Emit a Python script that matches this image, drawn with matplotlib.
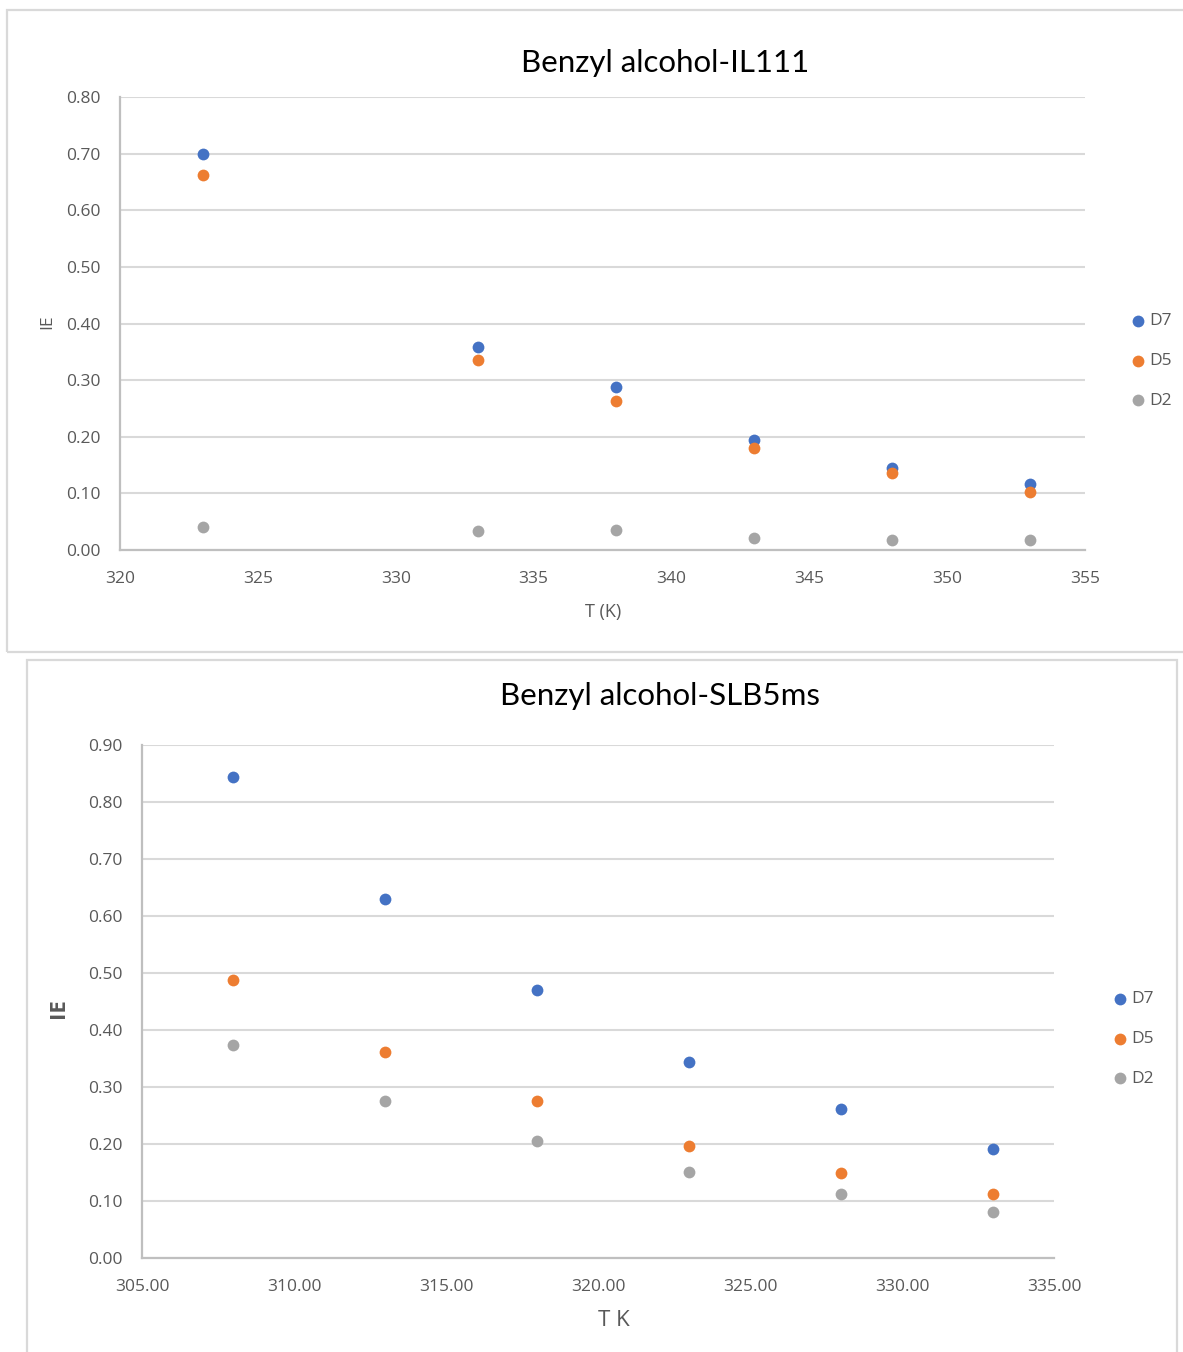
import matplotlib
matplotlib.use("Agg")
import matplotlib.pyplot as plt
from matplotlib.patches import Rectangle

# Benzyl alcohol on IL111
t_il111 = [323, 333, 338, 343, 348, 353]
il111_d7 = [0.70, 0.358, 0.288, 0.194, 0.145, 0.116]
il111_d5 = [0.662, 0.335, 0.263, 0.181, 0.136, 0.103]
il111_d2 = [0.040, 0.033, 0.036, 0.021, 0.017, 0.017]

# Benzyl alcohol on SLB5ms
t_slb = [308, 313, 318, 323, 328, 333]
slb_d7 = [0.843, 0.629, 0.470, 0.343, 0.262, 0.192]
slb_d5 = [0.488, 0.361, 0.276, 0.197, 0.149, 0.112]
slb_d2 = [0.374, 0.275, 0.206, 0.151, 0.112, 0.080]

series_names = ["D7", "D5", "D2"]
series_colors = ["#4472C4", "#ED7D31", "#A5A5A5"]

W, H = 1183, 1352
fig = plt.figure(figsize=(W / 100, H / 100), dpi=100)
fig.patch.set_facecolor("white")

TEXT = "#595959"
GRID = "#D9D9D9"
SPINE = "#BFBFBF"
plt.rcParams["font.family"] = ["Open Sans", "DejaVu Sans"]


def px_box(left, top, right, bottom):
    return [left / W, 1 - bottom / H, (right - left) / W, (bottom - top) / H]


def frame(left, top, right, bottom):
    fig.patches.append(Rectangle((left / W, 1 - bottom / H), (right - left) / W,
                                 (bottom - top) / H, transform=fig.transFigure,
                                 fill=False, edgecolor="#D9D9D9", linewidth=1.6,
                                 zorder=0))


def panel(box, xs, ys_list, xlim, xticks, xfmt, ylim, yticks, title, title_xy,
          xlabel, xlabel_xy, xlabel_size, ylabel_xy, ylabel_size, ylabel_weight,
          legend_xy):
    ax = fig.add_axes(box)
    for ys, name, c in zip(ys_list, series_names, series_colors):
        ax.scatter(xs, ys, s=72, color=c, label=name, zorder=3, linewidths=0)
    ax.set_xlim(*xlim)
    ax.set_ylim(*ylim)
    ax.set_xticks(xticks)
    ax.set_xticklabels([xfmt.format(v) for v in xticks])
    ax.set_yticks(yticks)
    ax.set_yticklabels(["{:.2f}".format(v) for v in yticks])
    ax.tick_params(length=0, labelsize=12.5, labelcolor=TEXT)
    ax.tick_params(axis="y", pad=14)
    ax.tick_params(axis="x", pad=15)
    ax.grid(axis="y", color=GRID, linewidth=1.5, zorder=0)
    for s in ["top", "right"]:
        ax.spines[s].set_visible(False)
    for s in ["left", "bottom"]:
        ax.spines[s].set_color(SPINE)
        ax.spines[s].set_linewidth(1.6)
    ax.set_axisbelow(True)
    fig.text(title_xy[0] / W, 1 - title_xy[1] / H, title, ha="center", va="center",
             fontsize=22.5, family=["Lato", "DejaVu Sans"], color="black")
    fig.text(xlabel_xy[0] / W, 1 - xlabel_xy[1] / H, xlabel, ha="center", va="center",
             fontsize=xlabel_size, color=TEXT)
    fig.text(ylabel_xy[0] / W, 1 - ylabel_xy[1] / H, "IE", ha="center", va="center",
             rotation=90, fontsize=ylabel_size, color=TEXT, weight=ylabel_weight)
    ax.legend(loc="center left", bbox_to_anchor=(legend_xy[0] / W, 1 - legend_xy[1] / H),
              bbox_transform=fig.transFigure, frameon=False, fontsize=12.5,
              labelcolor=TEXT, handletextpad=0.05, handlelength=1.2,
              labelspacing=1.35, borderaxespad=0, scatterpoints=1, markerscale=1.0)
    return ax


# outer frames around each chart
frame(7, 10, 1190, 652)
frame(27, 660, 1177, 1360)

panel(px_box(120, 97, 1085, 550), t_il111, [il111_d7, il111_d5, il111_d2],
      (320, 355), [320, 325, 330, 335, 340, 345, 350, 355], "{:.0f}",
      (0, 0.8), [0.0, 0.1, 0.2, 0.3, 0.4, 0.5, 0.6, 0.7, 0.8],
      "Benzyl alcohol-IL111", (665, 63), "T (K)", (603, 612), 13,
      (47, 322), 12.5, "normal", (1121, 361))

panel(px_box(142, 745, 1054, 1258), t_slb, [slb_d7, slb_d5, slb_d2],
      (305, 335), [305, 310, 315, 320, 325, 330, 335], "{:.2f}",
      (0, 0.9), [0.0, 0.1, 0.2, 0.3, 0.4, 0.5, 0.6, 0.7, 0.8, 0.9],
      "Benzyl alcohol-SLB5ms", (660, 696), "T K", (614, 1320), 16,
      (58, 1008), 16, "bold", (1103, 1039))

fig.savefig("out.png", dpi=100, facecolor="white")
